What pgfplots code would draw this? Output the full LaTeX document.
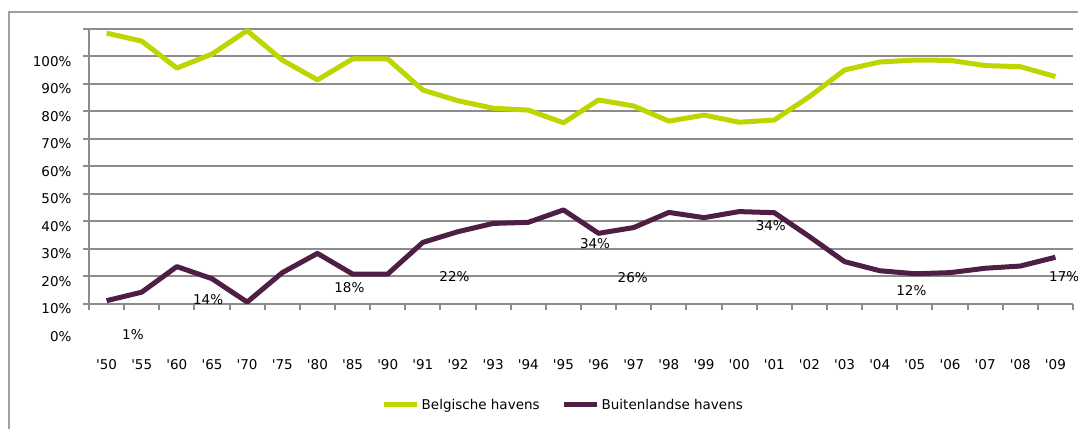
\documentclass[border=0pt]{standalone}
\usepackage{pgfplots}
\pgfplotsset{compat=1.18}
\usepackage{fontspec}
\setmainfont{DejaVu Sans}
\definecolor{bgreen}{RGB}{190,214,0}
\definecolor{bpurple}{RGB}{78,30,68}
\definecolor{gridgray}{RGB}{140,140,140}
\definecolor{framegray}{RGB}{160,160,160}
\newcommand\q{\textquotesingle}
\begin{document}
\begin{tikzpicture}
\path[use as bounding box] (0pt,0pt) rectangle (1078pt,428pt);
\draw[framegray, line width=2pt] (9pt,-20pt) -- (9pt,416pt) -- (1100pt,416pt);
\begin{axis}[
  at={(89pt,124pt)}, anchor=south west, scale only axis,
  width=984pt, height=275pt,
  xmin=-0.5, xmax=27.5, ymin=10, ymax=110,
  axis lines*=left,
  axis line style={draw=gridgray, line width=2pt, -},
  clip=false,
  font=\fontsize{13.5}{16}\selectfont,
  ytick={10,20,...,110},
  yticklabels={10\%,20\%,30\%,40\%,50\%,60\%,70\%,80\%,90\%,100\%,{}},
  yticklabel style={yshift=-5pt, xshift=-8pt},
  ymajorgrids,
  major grid style={draw=gridgray, line width=2pt},
  xtick={-0.5,0.5,...,27.5},
  xticklabels={{\q50},{\q55},{\q60},{\q65},{\q70},{\q75},{\q80},{\q85},{\q90},{\q91},{\q92},{\q93},{\q94},{\q95},{\q96},{\q97},{\q98},{\q99},{\q00},{\q01},{\q02},{\q03},{\q04},{\q05},{\q06},{\q07},{\q08},{\q09},{}},
  tick align=outside,
  major tick length=6pt,
  tick style={draw=gridgray, line width=2pt},
  xticklabel style={yshift=-46pt, xshift=17.57pt},
  legend style={at={(axis description cs:0.482,-0.367)}, anchor=center, draw=none, fill=none,
    legend columns=2, font=\fontsize{13.5}{16}\selectfont,
    /tikz/every even column/.append style={column sep=20pt}},
  legend image code/.code={\draw[#1] (0pt,0pt) -- (33pt,0pt);},
]
\addplot[bgreen, line width=5pt, line join=round] coordinates {
(0,108.5) (1,105.6) (2,95.8) (3,100.9) (4,109.4) (5,98.7) (6,91.5) (7,99.1) (8,99.1)
(9,87.8) (10,83.9) (11,81.2) (12,80.5) (13,75.9) (14,84.2) (15,82.0) (16,76.5) (17,78.7)
(18,76.1) (19,76.9) (20,85.4) (21,95.1) (22,98.0) (23,98.7) (24,98.6) (25,96.7) (26,96.3) (27,92.7)
};
\addlegendentry{Belgische havens}
\addplot[bpurple, line width=5pt, line join=round] coordinates {
(0,11.2) (1,14.3) (2,23.6) (3,19.2) (4,10.7) (5,21.4) (6,28.4) (7,20.9) (8,20.9)
(9,32.4) (10,36.3) (11,39.3) (12,39.7) (13,44.2) (14,35.7) (15,37.8) (16,43.3) (17,41.4)
(18,43.6) (19,43.2) (20,34.5) (21,25.4) (22,22.1) (23,21.0) (24,21.4) (25,23.0) (26,23.8) (27,27.0)
};
\addlegendentry{Buitenlandse havens}
\node[anchor=east, xshift=-14pt, yshift=-5pt] at (axis cs:-0.5,0) {0\%};
\node at (axis cs:0.75,-1.3) {1\%};
\node at (axis cs:2.89,11.5) {14\%};
\node at (axis cs:6.91,15.8) {18\%};
\node at (axis cs:9.9,19.8) {22\%};
\node at (axis cs:13.9,31.8) {34\%};
\node at (axis cs:14.97,19.5) {26\%};
\node at (axis cs:18.9,38.4) {34\%};
\node at (axis cs:22.9,14.7) {12\%};
\node at (axis cs:27.25,19.8) {17\%};
\end{axis}
\end{tikzpicture}
\end{document}
